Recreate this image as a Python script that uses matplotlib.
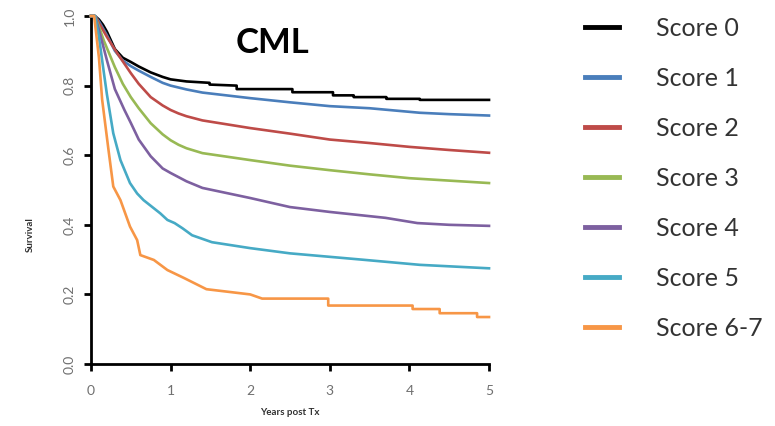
import matplotlib
matplotlib.use("Agg")
import matplotlib.pyplot as plt
from matplotlib.lines import Line2D

plt.rcParams['font.family'] = ['Lato', 'DejaVu Sans']

# survival curves (years post Tx, survival)
t_s0 = [0, 0.05, 0.1, 0.15, 0.2, 0.25, 0.3, 0.4, 0.5, 0.6, 0.75, 0.9, 1.0, 1.2, 1.49, 1.49, 1.83, 1.83,
        2.53, 2.53, 3.04, 3.04, 3.3, 3.3, 3.71, 3.71, 4.13, 4.13, 5.0]
s_s0 = [1.0, 1.0, 0.99, 0.975, 0.955, 0.93, 0.905, 0.88, 0.868, 0.855, 0.838, 0.825, 0.818, 0.812, 0.808, 0.803,
        0.8, 0.79, 0.79, 0.781, 0.781, 0.772, 0.772, 0.767, 0.767, 0.762, 0.762, 0.759, 0.759]

t_s1 = [0, 0.05, 0.1, 0.2, 0.3, 0.4, 0.5, 0.6, 0.75, 0.9, 1.0, 1.2, 1.4, 2.0, 2.5, 3.0, 3.5, 4.13, 4.5, 5.0]
s_s1 = [1.0, 1.0, 0.985, 0.945, 0.9, 0.872, 0.856, 0.843, 0.825, 0.808, 0.8, 0.789, 0.78, 0.764, 0.752, 0.741,
        0.735, 0.722, 0.718, 0.714]

t_s2 = [0, 0.05, 0.1, 0.2, 0.33, 0.5, 0.6, 0.75, 0.9, 1.0, 1.1, 1.2, 1.4, 2.0, 2.5, 3.0, 3.5, 4.0, 4.5, 5.0]
s_s2 = [1.0, 1.0, 0.98, 0.94, 0.893, 0.836, 0.805, 0.767, 0.743, 0.73, 0.72, 0.712, 0.70, 0.678, 0.662, 0.645,
        0.635, 0.624, 0.615, 0.607]

t_s3 = [0, 0.05, 0.1, 0.16, 0.3, 0.4, 0.5, 0.6, 0.75, 0.9, 1.0, 1.1, 1.2, 1.4, 2.0, 2.5, 3.0, 3.5, 4.0, 4.5, 5.0]
s_s3 = [1.0, 1.0, 0.97, 0.93, 0.853, 0.805, 0.767, 0.735, 0.692, 0.66, 0.643, 0.63, 0.62, 0.606, 0.586,
        0.57, 0.557, 0.545, 0.534, 0.527, 0.52]

t_s4 = [0, 0.05, 0.1, 0.2, 0.3, 0.42, 0.5, 0.6, 0.75, 0.9, 1.0, 1.1, 1.2, 1.4, 2.0, 2.5, 3.0, 3.7, 4.1, 4.5, 5.0]
s_s4 = [1.0, 1.0, 0.96, 0.873, 0.79, 0.73, 0.693, 0.645, 0.597, 0.562, 0.549, 0.537, 0.525, 0.506, 0.477,
        0.451, 0.437, 0.42, 0.405, 0.40, 0.397]

t_s5 = [0, 0.05, 0.1, 0.16, 0.2, 0.28, 0.37, 0.49, 0.58, 0.66, 0.87, 0.96, 1.05, 1.15, 1.27, 1.52, 2.0, 2.5,
        3.0, 3.4, 4.13, 5.0]
s_s5 = [1.0, 1.0, 0.94, 0.84, 0.775, 0.663, 0.586, 0.52, 0.49, 0.471, 0.433, 0.414, 0.405, 0.39, 0.37, 0.35,
        0.333, 0.318, 0.308, 0.30, 0.285, 0.275]

t_s6 = [0, 0.04, 0.1, 0.14, 0.22, 0.28, 0.37, 0.49, 0.58, 0.62, 0.79, 0.96, 1.17, 1.45, 2.0, 2.15, 2.98, 2.98,
        4.04, 4.04, 4.38, 4.38, 4.85, 4.85, 5.0]
s_s6 = [1.0, 1.0, 0.88, 0.76, 0.615, 0.51, 0.471, 0.395, 0.356, 0.313, 0.299, 0.27, 0.247, 0.215, 0.2, 0.188,
        0.188, 0.168, 0.168, 0.158, 0.158, 0.146, 0.146, 0.135, 0.135]

labels = ["Score 0", "Score 1", "Score 2", "Score 3", "Score 4", "Score 5", "Score 6-7"]
colors = ["#000000", "#4a7ebb", "#be4b48", "#98b954", "#7d60a0", "#46aac5", "#f79646"]
curves = [(t_s0, s_s0), (t_s1, s_s1), (t_s2, s_s2), (t_s3, s_s3), (t_s4, s_s4), (t_s5, s_s5), (t_s6, s_s6)]

fig = plt.figure(figsize=(7.75, 4.26), dpi=100)
ax = fig.add_axes([0.1174, 0.1455, 0.5136, 0.8169])

for (t, s), c in zip(curves, colors):
    ax.plot(t, s, color=c, linewidth=1.9, clip_on=False, zorder=3)

ax.set_xlim(0, 5)
ax.set_ylim(0, 1)
ax.set_xticks([0, 1, 2, 3, 4, 5])
ax.set_yticks([0.0, 0.2, 0.4, 0.6, 0.8, 1.0])
ax.set_yticklabels(["0.0", "0.2", "0.4", "0.6", "0.8", "1.0"], rotation=90, va='center')
for sp in ['top', 'right']:
    ax.spines[sp].set_visible(False)
for sp in ['left', 'bottom']:
    ax.spines[sp].set_linewidth(2)
ax.tick_params(axis='both', direction='out', length=5, width=2, labelsize=10, labelcolor='#707070')
ax.tick_params(axis='x', pad=10)
ax.tick_params(axis='y', pad=6)

ax.set_xlabel("Years post Tx", fontsize=7, fontweight='bold', color='#303030', labelpad=8)
fig.text(0.039, 0.45, "Survival", fontsize=7, fontweight='bold', color='#303030',
         rotation=90, ha='center', va='center')

fig.text(0.352, 0.9, "CML", fontsize=25, fontweight='bold', ha='center', va='center')

handles = [Line2D([], [], color=c, linewidth=3.5) for c in colors]
fig.legend(handles, labels, loc='upper left', bbox_to_anchor=(0.7386, 0.989), frameon=False,
           fontsize=18, handlelength=1.35, handletextpad=1.5, labelspacing=1.08, borderpad=0,
           labelcolor='#333333')

fig.savefig("out.png", dpi=100)
